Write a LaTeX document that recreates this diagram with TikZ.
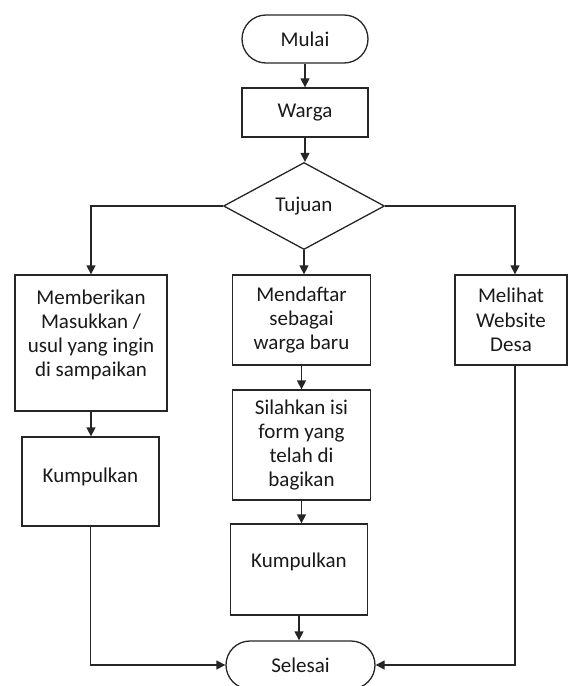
\documentclass[tikz,border=0pt]{standalone}
\usepackage{fontspec}
\setmainfont{Carlito}
\usetikzlibrary{shapes.geometric,arrows.meta}
\begin{document}
\begin{tikzpicture}[x=1pt,y=-1pt,
  every node/.style={font=\fontsize{21}{24.3}\selectfont, text=black!90},
  ln/.style={draw=black!85, line width=1.3pt},
  arr/.style={ln, -{Triangle[length=9pt,width=9pt]}},
  box/.style={ln, rectangle, inner sep=0pt, align=center},
  term/.style={ln, rectangle, rounded corners=24pt, inner sep=0pt}]
\useasboundingbox (0,0) rectangle (569,686);
% nodes
\node[term, minimum width=126pt, minimum height=48pt] (mulai) at (305,39) {Mulai};
\node[box, minimum width=126pt, minimum height=49pt] (warga) at (305,112.5) {Warga};
\node[ln, diamond, inner sep=0pt, minimum width=161pt, minimum height=87pt] (tujuan) at (304,206) {Tujuan};
\node[box, minimum width=152pt, minimum height=136pt, text depth=19.5pt] (memb) at (91,343) {Memberikan\\Masukkan /\\usul yang ingin\\di sampaikan};
\node[box, minimum width=137pt, minimum height=89pt, text depth=13.5pt] (kump1) at (90.5,481.5) {Kumpulkan};
\node[box, minimum width=138pt, minimum height=90pt] (mendaftar) at (301.5,320) {Mendaftar\\sebagai\\warga baru};
\node[box, minimum width=138pt, minimum height=110pt] (silahkan) at (301.5,445) {Silahkan isi\\form yang\\telah di\\bagikan};
\node[box, minimum width=137pt, minimum height=91pt, text depth=19.5pt] (kump2) at (299,569.5) {Kumpulkan};
\node[box, minimum width=112pt, minimum height=90pt] (melihat) at (511,320) {Melihat\\Website\\Desa};
\node[term, minimum width=149pt, minimum height=48pt] (selesai) at (300.5,665) {Selesai};
\coordinate (rx) at (515,206);
% connectors
\draw[arr] (mulai.south) -- (mulai.south |- warga.north);
\draw[arr] (warga.south) -- (warga.south |- tujuan.north);
\draw[arr] (tujuan.south) -- (tujuan.south |- mendaftar.north);
\draw[arr] (mendaftar.south) -- (mendaftar.south |- silahkan.north);
\draw[arr] (silahkan.south) -- (silahkan.south |- kump2.north);
\draw[arr] (kump2.south) -- (kump2.south |- selesai.north);
\draw[arr] (tujuan.west) -| (memb.north);
\draw[arr] (memb.south) -- (memb.south |- kump1.north);
\draw[arr] (kump1.south) |- (selesai.west);
\draw[arr] (tujuan.east) -| (rx |- melihat.north);
\draw[arr] (rx |- melihat.south) |- (selesai.east);
\end{tikzpicture}
\end{document}
